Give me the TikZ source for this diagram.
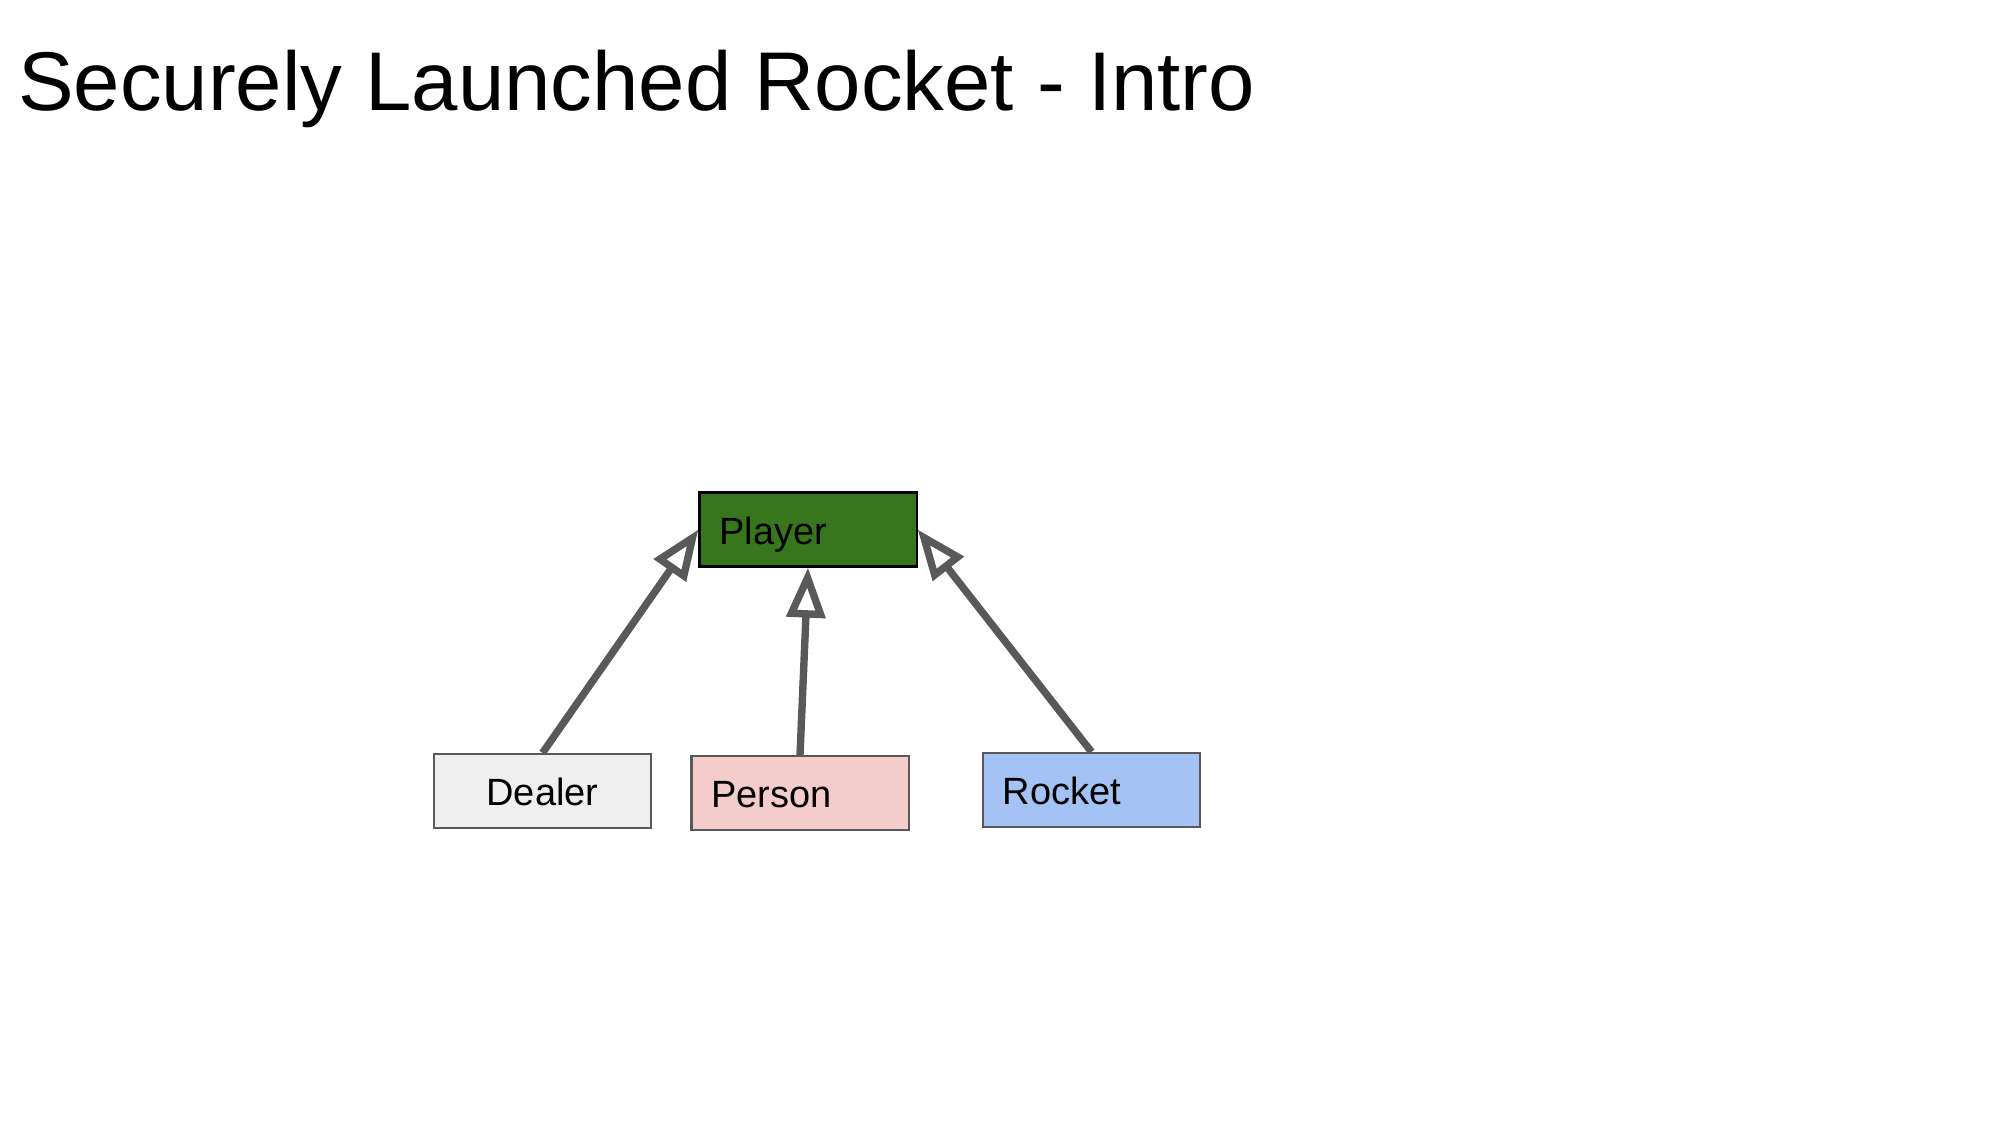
\documentclass[tikz,border=0pt]{standalone}
\usepackage{fontspec}
\setmainfont{Liberation Sans}
\usetikzlibrary{arrows.meta}
\definecolor{linegray}{HTML}{595959}
\definecolor{playergreen}{HTML}{38761D}
\definecolor{dealergray}{HTML}{EFEFEF}
\definecolor{personpink}{HTML}{F4CCCC}
\definecolor{rocketblue}{HTML}{A4C2F4}
\tikzset{
  classbox/.style={draw=linegray, line width=0.6pt, minimum width=2.17cm, minimum height=0.74cm,
    inner xsep=0.2cm, inner ysep=0pt, text width=1.77cm, align=left,
    text height=0.29cm, text depth=0pt, font=\fontsize{10.8pt}{12pt}\selectfont},
  inherit/.style={draw=linegray, line width=2.1pt,
    -{Triangle[open, length=0.5cm, width=0.38cm]}},
}
\begin{document}
\begin{tikzpicture}[x=0.01cm, y=-0.01cm]
\useasboundingbox (0,0) rectangle (2000,1125);
\node[anchor=base west, inner sep=0pt, font=\fontsize{23.7pt}{28pt}\selectfont] (title) at (17.5,111) {Securely Launched Rocket - Intro};
\node[classbox, draw=black, fill=playergreen] (player) at (808,529.5) {Player};
\node[classbox, fill=dealergray, align=center] (dealer) at (542.5,791) {Dealer};
\node[classbox, fill=personpink] (person) at (800,793) {Person};
\node[classbox, fill=rocketblue] (rocket) at (1091.5,790) {Rocket};
\draw[inherit] (dealer.north) -- (player.west);
\draw[inherit] (person.north) -- (player.south);
\draw[inherit] (rocket.north) -- (player.east);
\end{tikzpicture}
\end{document}
